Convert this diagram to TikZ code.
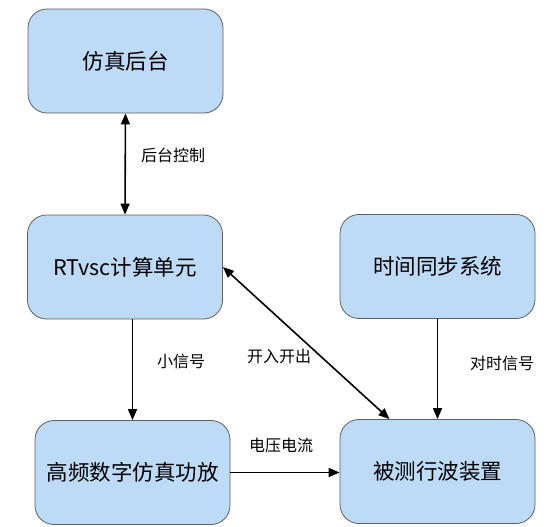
\documentclass[tikz,border=0pt]{standalone}
\usepackage{fontspec}
\setmainfont{Noto Sans CJK SC}
\usetikzlibrary{arrows.meta}
\definecolor{boxfill}{RGB}{189,218,247}
\definecolor{boxline}{RGB}{95,95,95}
\begin{document}
\begin{tikzpicture}[x=1pt,y=-1pt,
  block/.style={draw=boxline,line width=0.8pt,fill=boxfill,rounded corners=19pt,
    minimum width=195pt,minimum height=104pt,inner sep=0pt,
    font=\fontsize{21.5}{24}\selectfont},
  conn/.style={line width=1.6pt,-{Triangle[length=11pt,width=9pt]}},
  biconn/.style={line width=1.6pt,{Triangle[length=11pt,width=9pt]}-{Triangle[length=11pt,width=9pt]}},
  lbl/.style={font=\fontsize{16}{18}\selectfont,inner sep=0pt}]
\useasboundingbox (0,0) rectangle (554,527);
\node[block] (backend) at (125.5,61) {仿真后台};
\node[block] (rt) at (125,267) {RTvsc计算单元};
\node[block] (time) at (437.5,266.5) {时间同步系统};
\node[block] (amp) at (132.5,472.5) {高频数字仿真功放};
\node[block] (dut) at (437.5,471.5) {被测行波装置};
\draw[biconn] (backend.south) -- (rt.north);
\draw[conn] (amp.north |- rt.south) -- (amp.north);
\draw[conn] (time.south) -- (dut.north);
\draw[conn] (amp.east) -- (amp.east -| dut.west);
\draw[biconn] (rt.east) -- ([xshift=-48pt]dut.north);
\node[lbl] (l1) at (173,155) {后台控制};
\node[lbl] (l2) at (181,361) {小信号};
\node[lbl] (l3) at (502,363) {对时信号};
\node[lbl] (l4) at (281,445) {电压电流};
\node[lbl] (l5) at (279,356) {开入开出};
\end{tikzpicture}
\end{document}
